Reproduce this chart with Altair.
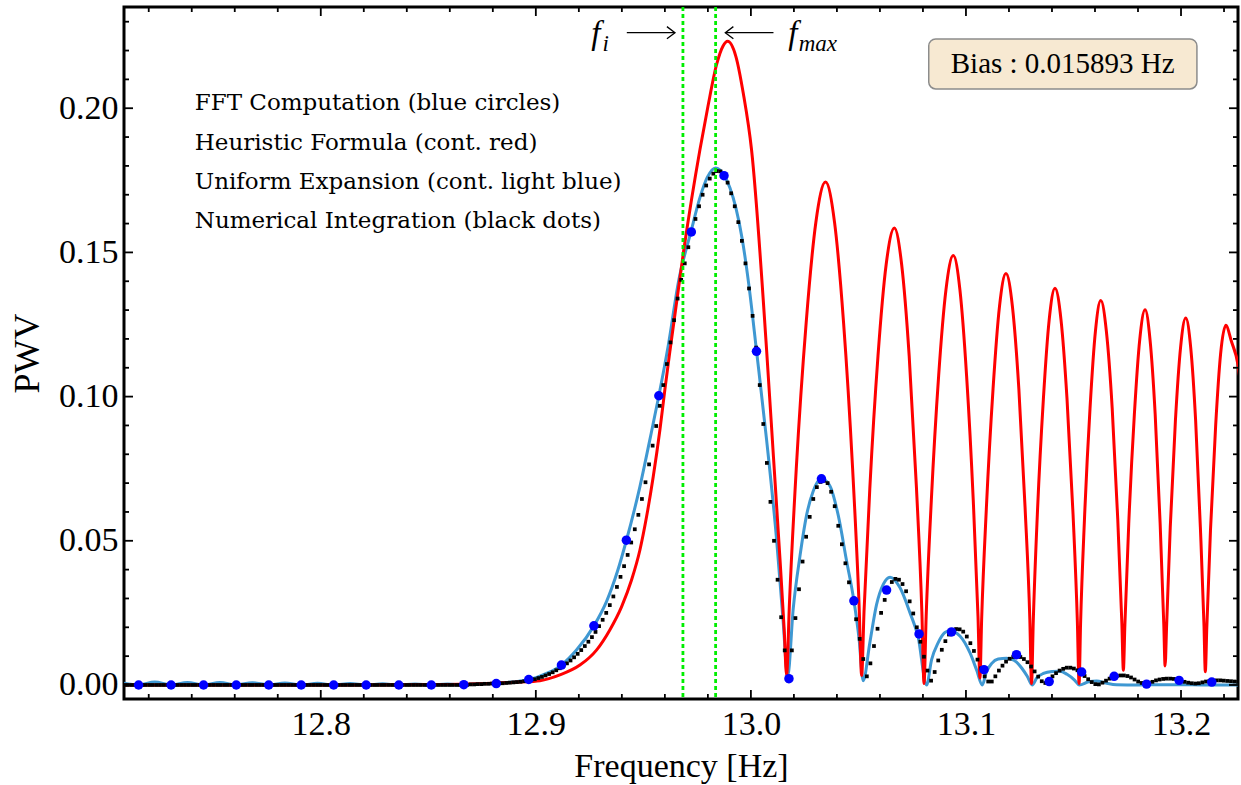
import altair as alt
import pandas as pd
import numpy as np

# ---------------- data ----------------
# FFT computation (blue circles)
fft_freq = [12.7153, 12.7304, 12.7455, 12.7607, 12.7758, 12.7909, 12.8060, 12.8211, 12.8363,
            12.8514, 12.8665, 12.8816, 12.8967, 12.9119, 12.9270, 12.9421, 12.9572, 12.9723,
            12.9875, 13.0026, 13.0177, 13.0328, 13.0479, 13.0631, 13.0782, 13.0933, 13.1084,
            13.1235, 13.1387, 13.1538, 13.1689, 13.1840, 13.1991, 13.2143]
fft_pwv = [0.0000, 0.0000, 0.0000, 0.0000, 0.0000, 0.0000, 0.0000, 0.0000, 0.0000,
           0.0000, 0.0001, 0.0005, 0.0019, 0.0069, 0.0205, 0.0502, 0.1003, 0.1571,
           0.1766, 0.1157, 0.0022, 0.0715, 0.0292, 0.0329, 0.0177, 0.0184, 0.0053,
           0.0105, 0.0012, 0.0045, 0.0030, 0.0003, 0.0016, 0.0010]

# Heuristic formula (continuous red)
red_freq = [12.7085, 12.8000, 12.8600, 12.8800, 12.8920, 12.9019, 12.9112, 12.9205, 12.9282,
            12.9344, 12.9399, 12.9445, 12.9484, 12.9515, 12.9546, 12.9577, 12.9600, 12.9623,
            12.9688, 12.9763, 12.9800, 12.9840, 12.9870, 12.9892, 12.9930, 12.9965, 13.0003,
            13.0073, 13.0105, 13.0135, 13.0155, 13.0166,
            13.0179, 13.0211, 13.0257, 13.0302, 13.0347, 13.0389, 13.0431, 13.0473, 13.0503, 13.0515,
            13.0526, 13.0553, 13.0591, 13.0629, 13.0667, 13.0701, 13.0736, 13.0770, 13.0795, 13.0805,
            13.0815, 13.0839, 13.0873, 13.0907, 13.0941, 13.0972, 13.1003, 13.1034, 13.1056, 13.1065,
            13.1073, 13.1095, 13.1126, 13.1156, 13.1186, 13.1216, 13.1246, 13.1275, 13.1297, 13.1305,
            13.1313, 13.1332, 13.1360, 13.1387, 13.1414, 13.1442, 13.1470, 13.1498, 13.1518, 13.1526,
            13.1533, 13.1551, 13.1577, 13.1602, 13.1627, 13.1653, 13.1680, 13.1706, 13.1725, 13.1732,
            13.1739, 13.1757, 13.1783, 13.1808, 13.1833, 13.1856, 13.1880, 13.1903, 13.1920, 13.1926,
            13.1933, 13.1950, 13.1974, 13.1998, 13.2022, 13.2045, 13.2068, 13.2090, 13.2107, 13.2113,
            13.2120, 13.2137, 13.2161, 13.2184, 13.2208, 13.2235, 13.2265, 13.2290]
red_pwv = [0.0000, 0.0000, 0.0002, 0.0006, 0.0010, 0.0015, 0.0035, 0.0069, 0.0121,
           0.0191, 0.0272, 0.0364, 0.0468, 0.0584, 0.0723, 0.0885, 0.1024, 0.1155,
           0.1509, 0.1856, 0.2005, 0.2150, 0.2215, 0.2232, 0.2180, 0.2050, 0.1856,
           0.1162, 0.0790, 0.0440, 0.0190, 0.0033,
           0.0279, 0.0750, 0.1256, 0.1604, 0.1744, 0.1604, 0.1256, 0.0750, 0.0279, 0.0033,
           0.0254, 0.0682, 0.1141, 0.1458, 0.1585, 0.1458, 0.1141, 0.0682, 0.0254, 0.0005,
           0.0238, 0.0640, 0.1072, 0.1370, 0.1489, 0.1370, 0.1072, 0.0640, 0.0238, 0.0024,
           0.0228, 0.0614, 0.1027, 0.1313, 0.1427, 0.1313, 0.1027, 0.0614, 0.0228, 0.0005,
           0.0220, 0.0592, 0.0991, 0.1266, 0.1376, 0.1266, 0.0991, 0.0592, 0.0220, 0.0005,
           0.0213, 0.0573, 0.0960, 0.1226, 0.1333, 0.1226, 0.0960, 0.0573, 0.0213, 0.0051,
           0.0208, 0.0559, 0.0937, 0.1197, 0.1301, 0.1197, 0.0937, 0.0559, 0.0208, 0.0066,
           0.0204, 0.0547, 0.0917, 0.1171, 0.1273, 0.1171, 0.0917, 0.0547, 0.0204, 0.0046,
           0.0200, 0.0536, 0.0898, 0.1147, 0.1247, 0.1190, 0.1110, 0.0950]

# Uniform expansion (continuous light blue)
blue_freq = [12.7085, 12.7153, 12.7228, 12.7304, 12.7380, 12.7455, 12.7531, 12.7607, 12.7682,
             12.7758, 12.7833, 12.7909, 12.7985, 12.8060, 12.8136, 12.8211, 12.8287, 12.8363,
             12.8438, 12.8514, 12.8590, 12.8665, 12.8741, 12.8816, 12.8900, 12.8967, 12.9050,
             12.9119, 12.9189, 12.9270, 12.9329, 12.9380, 12.9421, 12.9484, 12.9530, 12.9572,
             12.9615, 12.9665, 12.9721, 12.9763, 12.9797, 12.9836, 12.9875, 12.9902, 12.9930,
             12.9960, 12.9990, 13.0026, 13.0073, 13.0120, 13.0150, 13.0171,
             13.0197, 13.0228, 13.0259, 13.0290, 13.0329, 13.0367, 13.0406, 13.0445, 13.0479,
             13.0503, 13.0522, 13.0553, 13.0584, 13.0616, 13.0647, 13.0693, 13.0740, 13.0778,
             13.0817, 13.0840, 13.0871, 13.0902, 13.0926, 13.0972, 13.1019, 13.1050, 13.1076,
             13.1095, 13.1120, 13.1150, 13.1189, 13.1225, 13.1260, 13.1285, 13.1308, 13.1330,
             13.1360, 13.1400, 13.1437, 13.1470, 13.1505, 13.1527, 13.1570, 13.1608, 13.1650,
             13.1700, 13.1800, 13.1900, 13.2000, 13.2100, 13.2265]
blue_pwv = [0.0006, 0.0000, 0.0010, 0.0000, 0.0009, 0.0000, 0.0009, 0.0000, 0.0008,
            0.0000, 0.0007, 0.0000, 0.0006, 0.0000, 0.0005, 0.0000, 0.0004, 0.0000,
            0.0003, 0.0000, 0.0003, 0.0001, 0.0004, 0.0006, 0.0011, 0.0018, 0.0040,
            0.0069, 0.0121, 0.0205, 0.0290, 0.0395, 0.0501, 0.0688, 0.0850, 0.1003,
            0.1174, 0.1405, 0.1571, 0.1690, 0.1760, 0.1793, 0.1768, 0.1725, 0.1655,
            0.1545, 0.1390, 0.1160, 0.0850, 0.0500, 0.0220, 0.0030,
            0.0266, 0.0446, 0.0589, 0.0673, 0.0715, 0.0691, 0.0589, 0.0430, 0.0292,
            0.0160, 0.0015, 0.0146, 0.0278, 0.0350, 0.0374, 0.0338, 0.0250, 0.0165,
            0.0000, 0.0087, 0.0147, 0.0182, 0.0188, 0.0170, 0.0111, 0.0051, 0.0000,
            0.0045, 0.0075, 0.0090, 0.0093, 0.0085, 0.0058, 0.0030, 0.0000, 0.0025,
            0.0040, 0.0047, 0.0048, 0.0037, 0.0017, 0.0000, 0.0011, 0.0014, 0.0007,
            0.0001, 0.0000, 0.0001, 0.0001, 0.0000, 0.0000]

# Numerical integration (black dots): regular sample grid, values read per dot
num_start = 12.70863
num_step = 0.00166
num_pwv = [0.0] * 97 + [
    0.0002, 0.0002, 0.0003, 0.0003, 0.0004, 0.0004, 0.0005, 0.0005, 0.0006, 0.0006,
    0.0007, 0.0008, 0.0009, 0.0010, 0.0011, 0.0013, 0.0015, 0.0017, 0.0020, 0.0024,
    0.0028, 0.0033, 0.0038, 0.0044, 0.0051, 0.0058, 0.0066, 0.0075, 0.0085, 0.0096,
    0.0108, 0.0121, 0.0135, 0.0150, 0.0166, 0.0184, 0.0204, 0.0226, 0.0250, 0.0277,
    0.0307, 0.0340, 0.0375, 0.0412, 0.0451, 0.0494, 0.0540, 0.0590, 0.0645, 0.0703,
    0.0765, 0.0830, 0.0898, 0.0968, 0.1040, 0.1113, 0.1188, 0.1265, 0.1340, 0.1405,
    0.1462, 0.1518, 0.1568, 0.1616, 0.1660, 0.1700, 0.1732, 0.1756, 0.1773, 0.1782,
    0.1781, 0.1768, 0.1742, 0.1705, 0.1660, 0.1605, 0.1540, 0.1462, 0.1375, 0.1280,
    0.1170, 0.1040, 0.0905, 0.0770, 0.0635, 0.0500, 0.0365, 0.0235, 0.0120, 0.0015,
    0.0120, 0.0232, 0.0332, 0.0428, 0.0514, 0.0583, 0.0645, 0.0686, 0.0704, 0.0708,
    0.0700, 0.0670, 0.0620, 0.0552, 0.0488, 0.0422, 0.0356, 0.0290, 0.0228, 0.0160,
    0.0090, 0.0030, 0.0075, 0.0135, 0.0195, 0.0250, 0.0295, 0.0332, 0.0357, 0.0368,
    0.0365, 0.0350, 0.0325, 0.0290, 0.0248, 0.0200, 0.0150, 0.0098, 0.0050, 0.0015,
    0.0045, 0.0085, 0.0122, 0.0152, 0.0175, 0.0189, 0.0194, 0.0193, 0.0185, 0.0168,
    0.0145, 0.0118, 0.0088, 0.0058, 0.0030, 0.0012, 0.0012, 0.0030, 0.0050, 0.0067,
    0.0081, 0.0091, 0.0097, 0.0099, 0.0097, 0.0090, 0.0079, 0.0064, 0.0047, 0.0029,
    0.0013, 0.0007, 0.0018, 0.0030, 0.0041, 0.0050, 0.0056, 0.0060, 0.0060, 0.0057,
    0.0051, 0.0042, 0.0031, 0.0020, 0.0010, 0.0003, 0.0002, 0.0008, 0.0015, 0.0022,
    0.0027, 0.0031, 0.0033, 0.0033, 0.0031, 0.0026, 0.0019, 0.0012, 0.0007, 0.0005,
    0.0007, 0.0011, 0.0016, 0.0019, 0.0021, 0.0022, 0.0022, 0.0021, 0.0019, 0.0015,
    0.0011, 0.0008, 0.0006, 0.0005, 0.0006, 0.0009, 0.0012, 0.0014, 0.0015, 0.0016,
    0.0016, 0.0015, 0.0014, 0.0013, 0.0012, 0.0011]

# vertical markers f_i and f_max
marker_freq = [12.9684, 12.9836]

# axis ticks
x_major = [12.8, 12.9, 13.0, 13.1, 13.2]
x_minor = [12.72, 12.74, 12.76, 12.78, 12.82, 12.84, 12.86, 12.88, 12.92, 12.94, 12.96, 12.98,
           13.02, 13.04, 13.06, 13.08, 13.12, 13.14, 13.16, 13.18, 13.22]
y_major = [0.0, 0.05, 0.10, 0.15, 0.20]
y_minor = [0.01, 0.02, 0.03, 0.04, 0.06, 0.07, 0.08, 0.09, 0.11, 0.12, 0.13, 0.14,
           0.16, 0.17, 0.18, 0.19, 0.21, 0.22, 0.23]

legend_lines = ["FFT Computation (blue circles)",
                "Heuristic Formula (cont. red)",
                "Uniform Expansion (cont. light blue)",
                "Numerical Integration (black dots)"]
bias_text = "Bias : 0.015893 Hz"

# ---------------- layout ----------------
X_MIN, X_MAX = 12.7085, 13.2265
Y_MIN, Y_MAX = -0.00486, 0.2351
W, H = 1114, 692
SERIF = "Liberation Serif"

xs = alt.Scale(domain=[X_MIN, X_MAX], nice=False, zero=False)
ys = alt.Scale(domain=[Y_MIN, Y_MAX], nice=False, zero=False)

X_AXIS = alt.Axis(values=x_major, format=".1f", ticks=False, domain=False, grid=False,
                  labelFont=SERIF, labelFontSize=34, labelColor="black",
                  labelPadding=8, labelFlush=False,
                  title="Frequency [Hz]", titleFont=SERIF, titleFontSize=34,
                  titleFontWeight="normal", titleColor="black", titlePadding=8)
Y_AXIS = alt.Axis(values=y_major, format=".2f", ticks=False, domain=False, grid=False,
                  labelFont=SERIF, labelFontSize=34, labelColor="black",
                  labelPadding=6, labelFlush=False,
                  title="PWV", titleFont=SERIF, titleFontSize=36,
                  titleFontWeight="normal", titleColor="black", titlePadding=12)


def X(fld="f"):
    return alt.X(f"{fld}:Q", scale=xs, axis=X_AXIS)


def Y(fld="p"):
    return alt.Y(f"{fld}:Q", scale=ys, axis=Y_AXIS)


fft_df = pd.DataFrame({"f": fft_freq, "p": fft_pwv})
red_df = pd.DataFrame({"f": red_freq, "p": red_pwv})
blue_df = pd.DataFrame({"f": blue_freq, "p": blue_pwv})
num_df = pd.DataFrame({"f": np.round(num_start + num_step * np.arange(len(num_pwv)), 5),
                       "p": num_pwv})
mark_df = pd.DataFrame({"f": marker_freq})

leg_y = [0.2019, 0.1881, 0.1745, 0.1610]
leg_df = pd.DataFrame({"f": [12.7414] * 4, "p": leg_y, "t": legend_lines})

blue = alt.Chart(blue_df).mark_line(color="#3f98d2", strokeWidth=3,
                                    interpolate="monotone", clip=True).encode(x=X(), y=Y())

red = alt.Chart(red_df).mark_line(color="#ff0000", strokeWidth=3,
                                  interpolate="monotone", clip=True).encode(x=X(), y=Y())

num = alt.Chart(num_df).mark_square(color="black", size=14, opacity=1, clip=True).encode(
    x=X(), y=Y())

fft = alt.Chart(fft_df).mark_circle(color="#0000ff", size=90, opacity=1, clip=True).encode(
    x=X(), y=Y())

markers = alt.Chart(mark_df).mark_rule(color="#00ee00", strokeWidth=2.8,
                                       strokeDash=[4, 3]).encode(x=X())

legend = alt.Chart(leg_df).mark_text(align="left", baseline="middle", font="DejaVu Serif",
                                     fontSize=23, color="black").encode(
    x=X(), y=Y(), text="t:N")

# bias box
box_df = pd.DataFrame({"f": [13.0827], "f2": [13.2074], "p": [0.2240], "p2": [0.2067],
                       "fc": [13.1450], "pc": [0.2155], "t": [bias_text]})
box = alt.Chart(box_df).mark_rect(fill="#f7e9d2", stroke="#8c8c8c", strokeWidth=1.5,
                                  cornerRadius=7).encode(
    x=X(), x2="f2:Q", y=Y(), y2="p2:Q")
box_txt = alt.Chart(box_df).mark_text(font=SERIF, fontSize=29, color="black",
                                      align="center", baseline="middle").encode(
    x=X("fc"), y=Y("pc"), text="t:N")

# f_i / f_max annotations
fbig_df = pd.DataFrame({"f": [12.9279, 13.0195], "p": [0.2221, 0.2221], "t": ["f", "f"]})
fsub_df = pd.DataFrame({"f": [12.9310, 13.0222], "p": [0.2200, 0.2200], "t": ["i", "max"]})
ann_big = alt.Chart(fbig_df).mark_text(
    font=SERIF, fontStyle="italic", fontSize=33, color="black", align="center",
    baseline="alphabetic").encode(x=X(), y=Y(), text="t:N")
ann_small = alt.Chart(fsub_df).mark_text(
    font=SERIF, fontStyle="italic", fontSize=23, color="black", align="left",
    baseline="alphabetic").encode(x=X(), y=Y(), text="t:N")

# thin arrows: shafts and open heads
shaft_df = pd.DataFrame({"f": [12.9423, 12.9883], "f2": [12.9645, 13.0105],
                         "p": [0.2262, 0.2262]})
shafts = alt.Chart(shaft_df).mark_rule(color="black", strokeWidth=1.3).encode(
    x=X(), x2="f2:Q", y=Y())
head_r = alt.Chart(pd.DataFrame({"f": [12.9647], "p": [0.2262]})).mark_point(
    shape="M -1 -0.75 L 0 0 L -1 0.75", size=260, filled=False, color="black",
    strokeWidth=1.3, opacity=1).encode(x=X(), y=Y())
head_l = alt.Chart(pd.DataFrame({"f": [12.9881], "p": [0.2262]})).mark_point(
    shape="M 1 -0.75 L 0 0 L 1 0.75", size=260, filled=False, color="black",
    strokeWidth=1.3, opacity=1).encode(x=X(), y=Y())


# inward ticks on all four sides
def yticks(vals, length):
    d = pd.DataFrame({"p": vals})
    left = alt.Chart(d).mark_rule(color="black", strokeWidth=1.8).encode(
        y=Y(), x=alt.value(0), x2=alt.value(length))
    right = alt.Chart(d).mark_rule(color="black", strokeWidth=1.8).encode(
        y=Y(), x=alt.value(W), x2=alt.value(W - length))
    return [left, right]


def xticks(vals, length):
    d = pd.DataFrame({"f": vals})
    bottom = alt.Chart(d).mark_rule(color="black", strokeWidth=1.8).encode(
        x=X(), y=alt.value(H), y2=alt.value(H - length))
    top = alt.Chart(d).mark_rule(color="black", strokeWidth=1.8).encode(
        x=X(), y=alt.value(0), y2=alt.value(length))
    return [bottom, top]


tick_layers = yticks(y_minor, 5) + yticks(y_major, 9) + xticks(x_minor, 5) + xticks(x_major, 9)

chart = alt.layer(
    blue, red, num, fft, markers, legend, box, box_txt, ann_big, ann_small,
    shafts, head_r, head_l, *tick_layers
).properties(
    width=W, height=H,
    padding={"left": 124, "top": 7, "right": 3, "bottom": 86},
    autosize=alt.AutoSizeParams(type="none"),
    background="white",
).configure_view(
    stroke="black", strokeWidth=3
)

chart.save("out.html", embed_options={"renderer": "svg", "actions": False})
